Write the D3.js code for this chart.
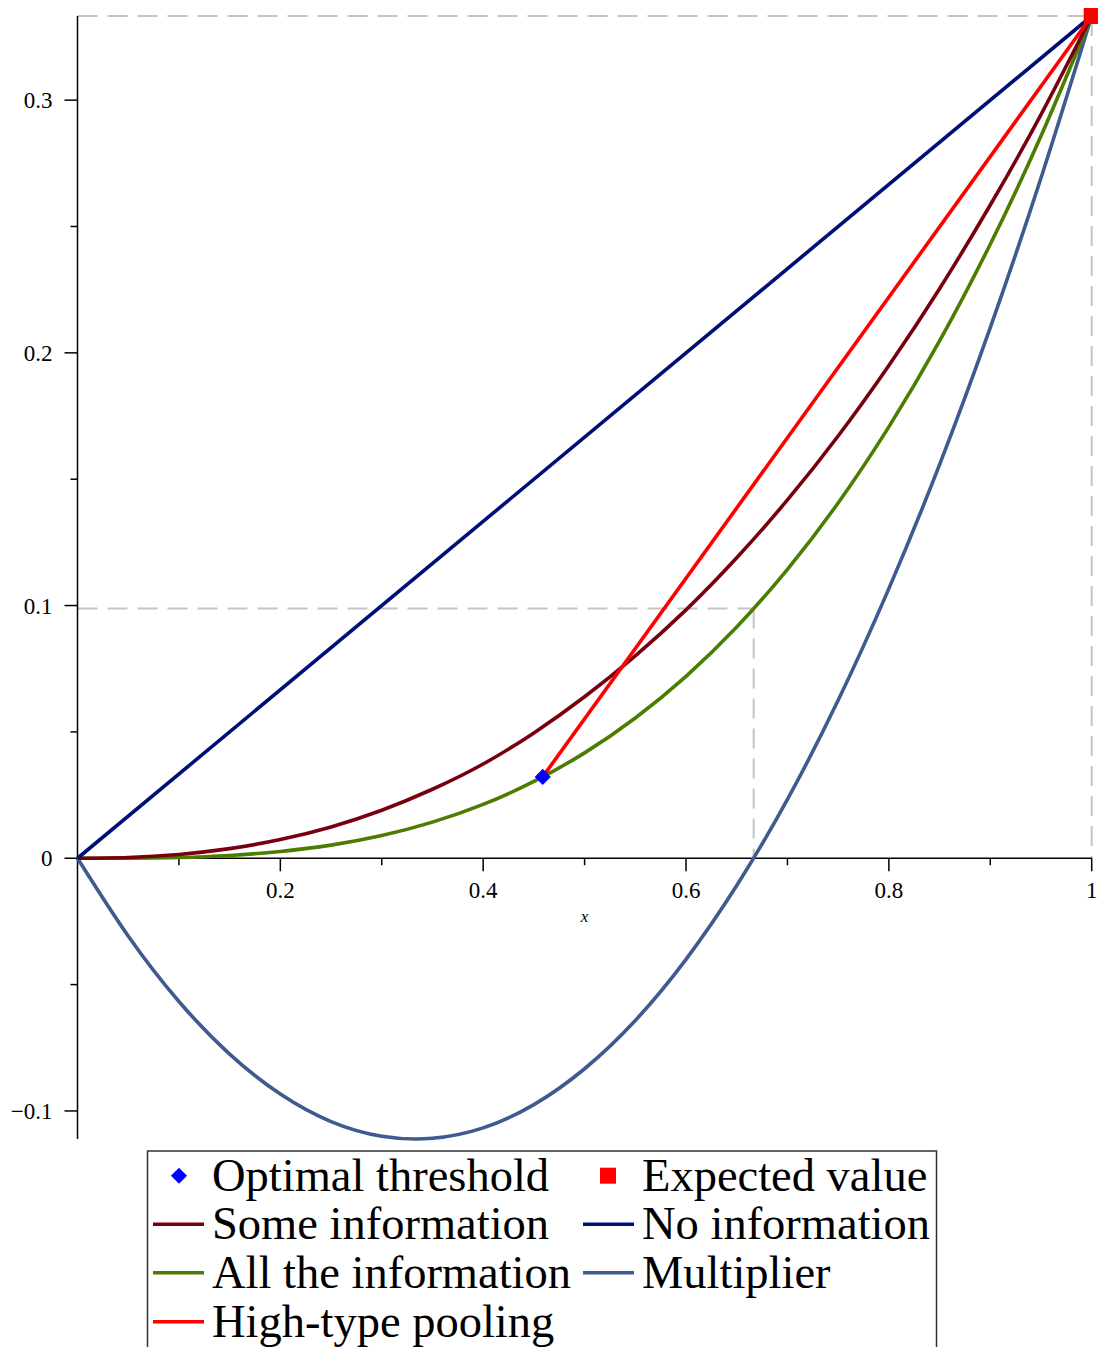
<!DOCTYPE html>
<meta charset="utf-8">
<style>
  body { margin: 0; background: #fff; }
  text { font-family: 'Liberation Serif', 'Times New Roman', serif; }
</style>
<svg width="1098" height="1347"></svg>
<script src="https://d3js.org/d3.v7.min.js"></script>
<script>
// sample points
var xs = [0, 0.05, 0.1, 0.15, 0.2, 0.25, 0.3, 0.35, 0.4, 0.45, 0.5,
          0.55, 0.6, 0.65, 0.7, 0.75, 0.8, 0.85, 0.9, 0.95, 1]

var someInfo = [0, 0.0003, 0.0015, 0.0038, 0.0074, 0.0124, 0.019, 0.0273, 0.0373, 0.0496, 0.0639,
                0.0801, 0.0983, 0.1189, 0.1418, 0.1671, 0.195, 0.2254, 0.2585, 0.2943, 0.3333]
var allInfo = [0, 0.0000, 0.0003, 0.0011, 0.0027, 0.0052, 0.009, 0.0143, 0.0213, 0.0304, 0.0417,
               0.0555, 0.072, 0.0915, 0.1143, 0.1406, 0.1707, 0.2047, 0.243, 0.2858, 0.3333]
var multiplier = [0, -0.0308, -0.0567, -0.0775, -0.0933, -0.1042, -0.11, -0.1108, -0.1067, -0.0975, -0.0833,
                  -0.0642, -0.04, -0.0108, 0.0233, 0.0625, 0.1067, 0.1558, 0.21, 0.2692, 0.3333]

var noInfoX = [0, 1]
var noInfoY = [0, 0.3333]
var poolingX = [0.4587, 1]
var poolingY = [0.0322, 0.3333]

var thresholdPoint = [0.4587, 0.0322]
var expectedPoint = [1, 0.3333]

// dashed guide segments [x1, y1, x2, y2]
var guides = [
  [0, 0.3333, 1, 0.3333],
  [1, 0.3333, 1, 0],
  [0, 0.0988, 0.6667, 0.0988],
  [0.6667, 0.0988, 0.6667, 0]
]

var xMajor = [0.2, 0.4, 0.6, 0.8, 1]
var xMinor = [0.1, 0.3, 0.5, 0.7, 0.9]
var yMajor = [-0.1, 0, 0.1, 0.2, 0.3]
var yMinor = [-0.05, 0.05, 0.15, 0.25]

var legendNames = ['Optimal threshold', 'Expected value', 'Some information', 'No information',
                   'All the information', 'Multiplier', 'High-type pooling']

var colors = {
  some: '#78000e',
  none: '#000e78',
  all: '#4d7d00',
  mult: '#3e5a8f',
  pool: '#ff0000',
  diamond: '#0000ff',
  square: '#ff0000'
}

var svg = d3.select('svg')

var x = d3.scaleLinear().domain([0, 1]).range([77.5, 1091.7])
var y = d3.scaleLinear().domain([-0.1111, 0.3333]).range([1139, 16])

// guides go in the back
svg.append('g').selectAll('line')
  .data(guides)
  .enter().append('line')
  .attr('x1', function (d) { return x(d[0]) })
  .attr('y1', function (d) { return y(d[1]) })
  .attr('x2', function (d) { return x(d[2]) })
  .attr('y2', function (d) { return y(d[3]) })
  .attr('stroke', '#c4c4c4')
  .attr('stroke-width', 2)
  .attr('stroke-dasharray', '20,10')

// axes, maple style: through the origin
var axisG = svg.append('g').attr('stroke', '#000').attr('stroke-width', 1.5)
axisG.append('line')
  .attr('x1', x(0)).attr('x2', x(1))
  .attr('y1', y(0)).attr('y2', y(0))
axisG.append('line')
  .attr('x1', x(0)).attr('x2', x(0))
  .attr('y1', y(0.3333)).attr('y2', y(-0.1111))

axisG.selectAll('.xmaj').data(xMajor).enter().append('line')
  .attr('x1', function (d) { return x(d) }).attr('x2', function (d) { return x(d) })
  .attr('y1', y(0)).attr('y2', y(0) + 13)
axisG.selectAll('.xmin').data(xMinor).enter().append('line')
  .attr('x1', function (d) { return x(d) }).attr('x2', function (d) { return x(d) })
  .attr('y1', y(0)).attr('y2', y(0) + 7)
axisG.selectAll('.ymaj').data(yMajor).enter().append('line')
  .attr('y1', function (d) { return y(d) }).attr('y2', function (d) { return y(d) })
  .attr('x1', x(0)).attr('x2', x(0) - 13)
axisG.selectAll('.ymin').data(yMinor).enter().append('line')
  .attr('y1', function (d) { return y(d) }).attr('y2', function (d) { return y(d) })
  .attr('x1', x(0)).attr('x2', x(0) - 7)

svg.append('g').selectAll('text')
  .data(xMajor)
  .enter().append('text')
  .attr('x', function (d) { return x(d) })
  .attr('y', y(0) + 40)
  .attr('text-anchor', 'middle')
  .attr('font-size', 23)
  .text(function (d) { return d3.format('~g')(d) })

svg.append('g').selectAll('text')
  .data(yMajor)
  .enter().append('text')
  .attr('x', x(0) - 25)
  .attr('y', function (d) { return y(d) + 8 })
  .attr('text-anchor', 'end')
  .attr('font-size', 23)
  .text(function (d) { return d3.format('~g')(d).replace('-', '\u2212') })

svg.append('text')
  .attr('x', x(0.5))
  .attr('y', y(0) + 64)
  .attr('text-anchor', 'middle')
  .attr('font-size', 17)
  .attr('font-style', 'italic')
  .text('x')

// curves
var line = d3.line()
  .x(function (d) { return x(d[0]) })
  .y(function (d) { return y(d[1]) })
  .curve(d3.curveNatural)

function pairs(xv, yv) {
  return xv.map(function (v, i) { return [v, yv[i]] })
}

var series = [
  { pts: pairs(xs, multiplier), color: colors.mult },
  { pts: pairs(xs, allInfo), color: colors.all },
  { pts: pairs(xs, someInfo), color: colors.some },
  { pts: pairs(noInfoX, noInfoY), color: colors.none },
  { pts: pairs(poolingX, poolingY), color: colors.pool }
]

svg.append('g').selectAll('path')
  .data(series)
  .enter().append('path')
  .attr('d', function (d) { return line(d.pts) })
  .attr('fill', 'none')
  .attr('stroke', function (d) { return d.color })
  .attr('stroke-width', 3.6)

// point markers
var diamond = d3.symbol().type(d3.symbolSquare).size(130)
svg.append('path')
  .attr('d', diamond())
  .attr('transform', 'translate(' + x(thresholdPoint[0]) + ',' + y(thresholdPoint[1]) + ') rotate(45)')
  .attr('fill', colors.diamond)
svg.append('rect')
  .attr('x', x(expectedPoint[0]) - 8)
  .attr('y', y(expectedPoint[1]) - 8)
  .attr('width', 16).attr('height', 16)
  .attr('fill', colors.square)

// legend box, two columns
var legend = svg.append('g')
legend.append('rect')
  .attr('x', 147.5).attr('y', 1151)
  .attr('width', 789).attr('height', 230)
  .attr('fill', '#fff')
  .attr('stroke', '#333')
  .attr('stroke-width', 1.5)

var legendKinds = ['diamond', 'square', 'some', 'none', 'all', 'mult', 'pool']
var colX = [153, 583]
var rowY = [1190.7, 1239.3, 1287.7, 1336.7]

legendNames.forEach(function (name, i) {
  var cx = colX[i % 2]
  var by = rowY[Math.floor(i / 2)]
  var kind = legendKinds[i]
  var sy = by - 15
  if (kind === 'diamond') {
    legend.append('path')
      .attr('d', diamond())
      .attr('transform', 'translate(' + (cx + 26) + ',' + sy + ') rotate(45)')
      .attr('fill', colors.diamond)
  } else if (kind === 'square') {
    legend.append('rect')
      .attr('x', cx + 17).attr('y', sy - 8)
      .attr('width', 16).attr('height', 16)
      .attr('fill', colors.square)
  } else {
    legend.append('line')
      .attr('x1', cx).attr('x2', cx + 51)
      .attr('y1', sy).attr('y2', sy)
      .attr('stroke', colors[kind])
      .attr('stroke-width', 3.4)
  }
  legend.append('text')
    .attr('x', cx + 59)
    .attr('y', by)
    .attr('font-size', 46.5)
    .text(name)
})
</script>
